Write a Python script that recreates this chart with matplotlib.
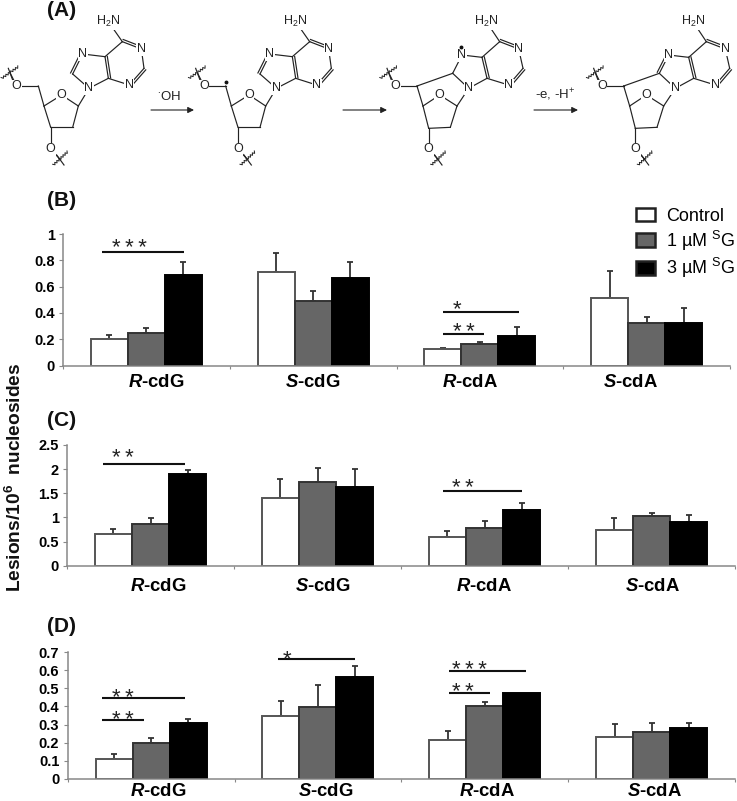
import matplotlib
matplotlib.use('Agg')
import matplotlib.pyplot as plt
from matplotlib.patches import Patch

plt.rcParams['font.family'] = ['Liberation Sans', 'DejaVu Sans']
plt.rcParams['mathtext.fontset'] = 'custom'
plt.rcParams['mathtext.rm'] = 'Liberation Sans'
plt.rcParams['mathtext.bf'] = 'Liberation Sans:bold'
plt.rcParams['mathtext.bfit'] = 'Liberation Sans:italic:bold'

W, H = 737, 801

categories = [r'$\mathbfit{R}$-cdG', r'$\mathbfit{S}$-cdG', r'$\mathbfit{R}$-cdA', r'$\mathbfit{S}$-cdA']
series = ['Control', '1 µM $^{\\mathrm{S}}$G', '3 µM $^{\\mathrm{S}}$G']

# bar heights, one row per category
b_vals = [[0.20, 0.245, 0.69], [0.71, 0.49, 0.665], [0.127, 0.16, 0.225], [0.51, 0.32, 0.325]]
b_tops = [[0.23, 0.287, 0.79], [0.853, 0.568, 0.79], [0.135, 0.175, 0.295], [0.718, 0.37, 0.44]]
c_vals = [[0.66, 0.86, 1.90], [1.40, 1.73, 1.64], [0.60, 0.78, 1.16], [0.74, 1.02, 0.91]]
c_tops = [[0.77, 0.99, 1.98], [1.79, 2.02, 2.00], [0.72, 0.92, 1.29], [0.99, 1.09, 1.04]]
d_vals = [[0.11, 0.20, 0.31], [0.345, 0.395, 0.56], [0.215, 0.405, 0.475], [0.233, 0.258, 0.28]]
d_tops = [[0.14, 0.225, 0.333], [0.428, 0.516, 0.625], [0.263, 0.425, 0.475], [0.305, 0.31, 0.31]]

b_ticks = [0, 0.2, 0.4, 0.6, 0.8, 1]
c_ticks = [0, 0.5, 1, 1.5, 2, 2.5]
d_ticks = [0, 0.1, 0.2, 0.3, 0.4, 0.5, 0.6, 0.7]

fills = ['white', '#666666', 'black']
edges = ['#555555', '#333333', 'black']
bar_w = 0.222


def panel(left, right, top, bottom, vals, tops, ticks, label_px, pad):
    ax = fig.add_axes([left / W, 1 - bottom / H, (right - left) / W, (bottom - top) / H])
    for i in range(4):
        for j in range(3):
            x = i + 0.5 + (j - 1) * bar_w
            ax.bar(x, vals[i][j], bar_w, color=fills[j], edgecolor=edges[j], linewidth=1.4, zorder=2)
            err = tops[i][j] - vals[i][j]
            if err > 0:
                ax.errorbar(x, vals[i][j], yerr=[[0], [err]], color='#333333', elinewidth=1.3,
                            capsize=2.2, capthick=1.3, zorder=1)
    ax.set_xlim(0, 4)
    ax.set_ylim(ticks[0], ticks[-1])
    ax.set_yticks(ticks)
    ax.set_yticklabels([f'{t:g}' for t in ticks], fontsize=10.5, fontweight='bold')
    ax.set_xticks(range(5))
    ax.set_xticklabels([])
    # the category labels are not centred under the groups in the original
    ax.set_xticks([(p - left) / (right - left) * 4 for p in label_px], minor=True)
    ax.set_xticklabels(categories, minor=True, fontsize=13.3, fontweight='bold')
    ax.tick_params(axis='x', which='minor', length=0, pad=pad)
    ax.tick_params(axis='x', which='major', length=2, color='#888888')
    ax.tick_params(axis='y', length=3, color='#888888', pad=3)
    for s in ['top', 'right']:
        ax.spines[s].set_visible(False)
    for s in ['left', 'bottom']:
        ax.spines[s].set_color('#888888')
        ax.spines[s].set_linewidth(1.1)
    ax.patch.set_alpha(0)
    return ax


fig = plt.figure(figsize=(W / 100, H / 100), dpi=100)
ax_b = panel(63, 730, 234, 365.5, b_vals, b_tops, b_ticks, [156, 313, 470, 630], 6)
ax_c = panel(67, 735, 445, 565.7, c_vals, c_tops, c_ticks, [158, 323, 484, 652], 9)
ax_d = panel(67.7, 735, 652, 779, d_vals, d_tops, d_ticks, [158, 326, 487, 654], 3)

handles = [Patch(facecolor=f, edgecolor='#222222', linewidth=1.8) for f in fills]
fig.legend(handles, series, loc='upper left', bbox_to_anchor=(632 / W, 1 - 204 / H), frameon=False,
           fontsize=13, handlelength=1.05, handleheight=0.8, handletextpad=0.65, labelspacing=0.2,
           borderpad=0.2, borderaxespad=0)

# overlay in pixel coordinates for the scheme, panel letters and significance marks
ov = fig.add_axes([0, 0, 1, 1], zorder=5)
ov.set_xlim(0, W)
ov.set_ylim(H, 0)
ov.axis('off')

for lab, y in [('(A)', 11), ('(B)', 201), ('(C)', 420), ('(D)', 626)]:
    ov.text(47, y, lab, fontsize=15, fontweight='bold', va='center', ha='left', color='#111111')

ov.text(15, 477, 'Lesions/10$^{\\mathbf{6}}$  nucleosides', rotation=90, fontsize=13.8,
        fontweight='bold', va='center', ha='center', color='#111111')

# x start, x end, line y, star x, star y, stars
T = '\u2009'
sig = [
    (102, 184, 252, 129, 248, T.join('***')),
    (443, 519, 312, 457, 310, '*'),
    (443, 484, 334, 464, 333, T.join('**')),
    (103, 185, 464, 123, 459, T.join('**')),
    (443, 522, 491, 463, 488, T.join('**')),
    (102, 185, 698, 123, 698, T.join('**')),
    (102, 144, 720, 123, 721, T.join('**')),
    (278, 355, 659, 287, 660, '*'),
    (449, 526, 671, 469, 670, T.join('***')),
    (449, 490, 693, 463, 693, T.join('**')),
]
for x0, x1, y, sx, sy, stars in sig:
    ov.plot([x0, x1], [y, y], color='#111111', lw=1.5, solid_capstyle='butt')
    ov.text(sx, sy, stars, fontsize=16, ha='center', va='center', color='#222222')

# scheme, atom positions at 3x
open_atoms = dict(C6=(367, 125), N1=(424, 147), C2=(432, 205), N3=(388, 255), C4=(325, 235), C5=(315, 170),
                  N7=(248, 162), C8=(218, 222), N9=(267, 265), C1=(235, 318), O4=(185, 285), C4s=(132, 318),
                  C3=(152, 382), C2s=(218, 382), C5s=(115, 258), O5=(50, 258), O3=(152, 447), NH2=(325, 65))
closed_atoms = dict(C6=(1499, 125), N1=(1556, 147), C2=(1569, 205), N3=(1526, 255), C4=(1461, 235), C5=(1446, 172),
                    N7=(1386, 165), C8=(1358, 220), N9=(1406, 265), C1=(1371, 318), O4=(1319, 285), C4s=(1269, 318),
                    C3=(1286, 385), C2s=(1351, 382), C5s=(1251, 258), O5=(1186, 258), O3=(1286, 447), NH2=(1459, 65))
single = [('C6', 'NH2'), ('C6', 'C5'), ('N1', 'C2'), ('N3', 'C4'), ('C5', 'N7'), ('C8', 'N9'), ('N9', 'C4'),
          ('N9', 'C1'), ('C1', 'O4'), ('O4', 'C4s'), ('C4s', 'C3'), ('C3', 'C2s'), ('C2s', 'C1'), ('C4s', 'C5s'),
          ('C5s', 'O5'), ('C3', 'O3')]
double = [('C6', 'N1'), ('C5', 'C4'), ('C2', 'N3')]
heavy = {'N1': 'N', 'N3': 'N', 'N7': 'N', 'N9': 'N', 'O4': 'O', 'O5': 'O', 'O3': 'O', 'NH2': 'H$_2$N'}


def line3(p, q, dx, lw=0.85):
    ov.plot([(p[0] + dx) / 3, (q[0] + dx) / 3], [p[1] / 3, q[1] / 3], color='#222222', lw=lw, zorder=1)


def dbl(p, q, dx):
    line3(p, q, dx)
    nx, ny = q[1] - p[1], p[0] - q[0]
    n = (nx ** 2 + ny ** 2) ** 0.5
    off = (nx / n * 7, ny / n * 7)
    line3((p[0] + off[0], p[1] + off[1]), (q[0] + off[0], q[1] + off[1]), dx)


def squiggle(p, q, dx):
    steps = 14
    xs, ys = [], []
    nx, ny = q[1] - p[1], p[0] - q[0]
    n = (nx ** 2 + ny ** 2) ** 0.5
    for k in range(steps + 1):
        s = (-1) ** k * 3
        xs.append((p[0] + (q[0] - p[0]) * k / steps + nx / n * s + dx) / 3)
        ys.append((p[1] + (q[1] - p[1]) * k / steps + ny / n * s) / 3)
    ov.plot(xs, ys, color='#222222', lw=0.7, zorder=1)


def molecule(a, dx, extra, dbl_n7=True):
    for p, q in single:
        line3(a[p], a[q], dx)
    for p, q in double:
        dbl(a[p], a[q], dx)
    if dbl_n7:
        dbl(a['C8'], a['N7'], dx)
    else:
        line3(a['C8'], a['N7'], dx)
    for p, q in extra:
        line3(a[p], a[q], dx)
    ox, oy = a['O5']
    line3((ox, oy), (ox - 18, oy - 36), dx)
    squiggle((ox - 45, oy - 23), (ox + 5, oy - 58), dx)
    line3((ox - 25, oy - 53), (ox - 12, oy - 18), dx)
    ox, oy = a['O3']
    line3((ox, oy), (ox + 28, oy + 31), dx)
    squiggle((ox + 8, oy + 48), (ox + 51, oy + 8), dx)
    line3((ox + 18, oy + 18), (ox + 40, oy + 48), dx)
    for k, s in heavy.items():
        ov.text((a[k][0] + dx) / 3, a[k][1] / 3, s, fontsize=9, ha='center', va='center', color='#222222',
                zorder=3, bbox=dict(facecolor='white', edgecolor='none', pad=0.4))


molecule(open_atoms, 0, [])
molecule(open_atoms, 562, [])
molecule(closed_atoms, 0, [('C5s', 'C8')], dbl_n7=False)
molecule(closed_atoms, 620, [('C5s', 'C8')])
ov.plot([678 / 3, 1383 / 3], [245 / 3, 140 / 3], ls='none', marker='o', ms=1.8, color='#111111', zorder=4)

for x0, x1 in [(151, 194), (343, 387), (534, 578)]:
    ov.annotate('', xy=(x1, 110), xytext=(x0, 110),
                arrowprops=dict(arrowstyle='-|>', color='#222222', lw=0.8, mutation_scale=9, shrinkA=0, shrinkB=0))
ov.text(169, 96, '$^{\\bullet}$OH', fontsize=9.5, ha='center', va='center', color='#222222')
ov.text(555, 95, '-e, -H$^{+}$', fontsize=9.5, ha='center', va='center', color='#222222')

plt.savefig('out.png', dpi=100)
